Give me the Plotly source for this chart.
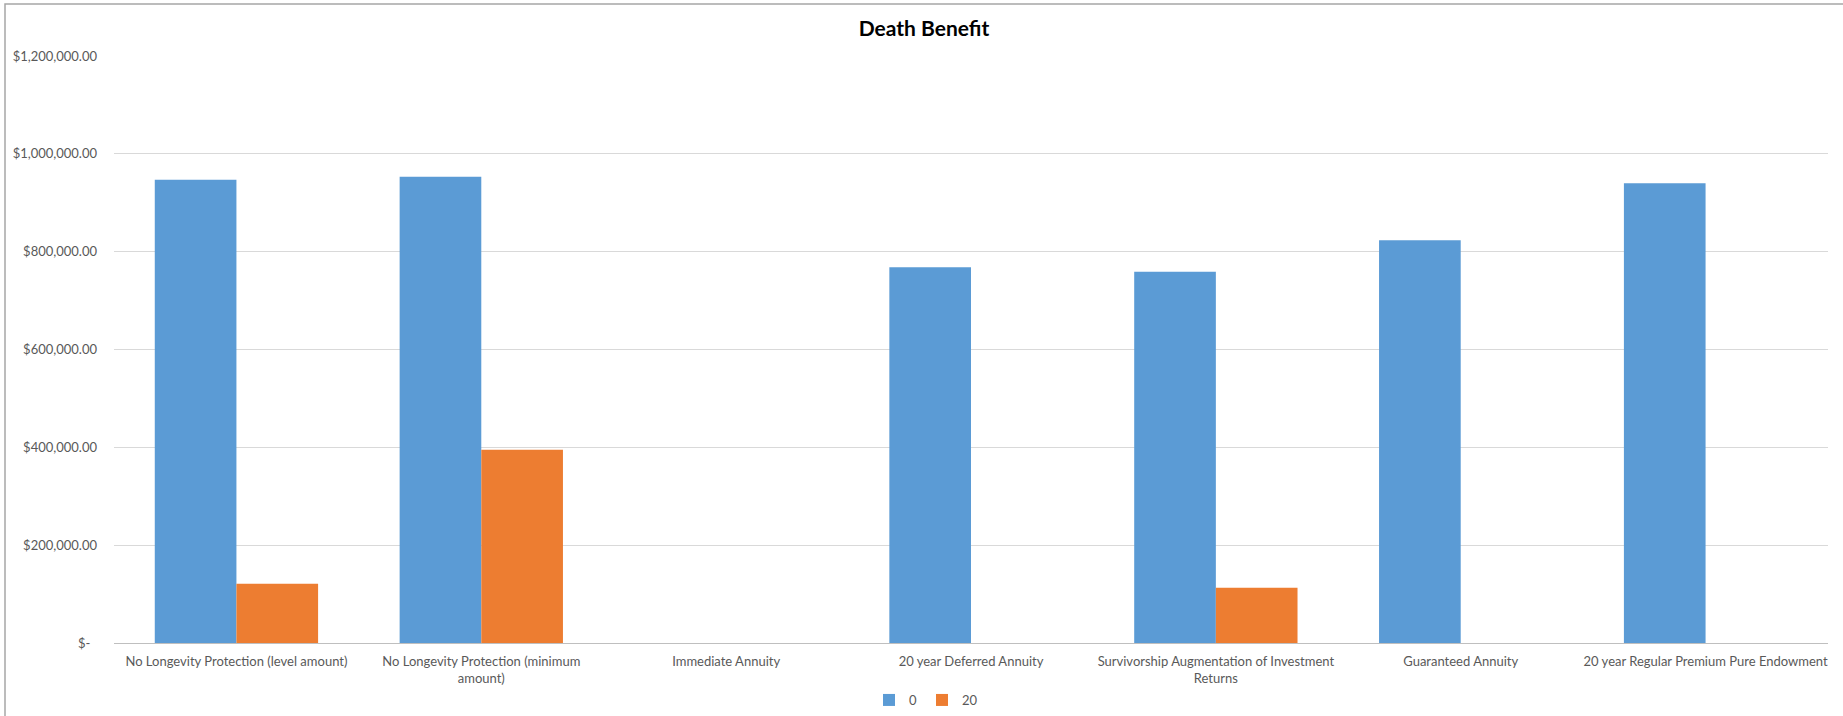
import plotly.graph_objects as go

categories = [
    "No Longevity Protection (level amount)",
    "No Longevity Protection (minimum<br>amount)",
    "Immediate Annuity",
    "20 year Deferred Annuity",
    "Survivorship Augmentation of Investment<br>Returns",
    "Guaranteed Annuity",
    "20 year Regular Premium Pure Endowment",
]
series_0 = [947000, 953000, 0, 768000, 759000, 823500, 940000]
series_20 = [121000, 395000, 0, 0, 112700, 0, 0]
tick_vals = [0, 200000, 400000, 600000, 800000, 1000000, 1200000]
tick_text = ["$-\u00a0\u00a0", "$200,000.00", "$400,000.00", "$600,000.00",
             "$800,000.00", "$1,000,000.00", "$1,200,000.00"]

W, H = 1843, 716
L, R, T, B = 114, 15, 56, 73
pw = W - L - R
ph = H - T - B

def px_to_paper_x(px):
    return (px - L) / pw

def px_to_paper_y(py):
    return (H - B - py) / ph

font = "Lato, 'Open Sans', sans-serif"

fig = go.Figure()
fig.add_trace(go.Bar(x=categories, y=series_0, name="0", marker_color="#5B9BD5",
                     marker_line_width=0))
fig.add_trace(go.Bar(x=categories, y=series_20, name="20", marker_color="#ED7D31",
                     marker_line_width=0))

fig.update_layout(
    width=W, height=H,
    margin=dict(l=L, r=R, t=T, b=B, autoexpand=False),
    paper_bgcolor="white", plot_bgcolor="white",
    barmode="group", bargap=0.333, bargroupgap=0,
    font=dict(family=font, size=13, color="#595959"),
    title=dict(text="<b>Death Benefit</b>", x=924 / W, xanchor="center",
               y=1 - 29 / H, yanchor="middle",
               font=dict(family=font, size=21, color="#000000")),
    showlegend=True,
    legend=dict(orientation="h", x=px_to_paper_x(926), xanchor="center",
                y=px_to_paper_y(700), yanchor="middle",
                font=dict(family=font, size=13, color="#595959"),
                itemwidth=30, traceorder="normal"),
    xaxis=dict(showgrid=False, showline=True, linecolor="#bfbfbf", linewidth=1,
               ticks="", ticklabelstandoff=6,
               tickfont=dict(family=font, size=13, color="#595959"),
               automargin=False),
    yaxis=dict(range=[0, 1200000], tickvals=tick_vals, ticktext=tick_text,
               showgrid=True, gridcolor="#d9d9d9", gridwidth=1,
               zeroline=False, showline=False, ticks="",
               ticklabelstandoff=16,
               tickfont=dict(family=font, size=13, color="#595959"),
               automargin=False),
)

fig.add_shape(type="rect", xref="paper", yref="paper",
              x0=px_to_paper_x(5), x1=px_to_paper_x(1860),
              y0=px_to_paper_y(730), y1=px_to_paper_y(4),
              line=dict(color="#a6a6a6", width=1.5), fillcolor="rgba(0,0,0,0)",
              layer="below")

fig.write_html("out.html")
